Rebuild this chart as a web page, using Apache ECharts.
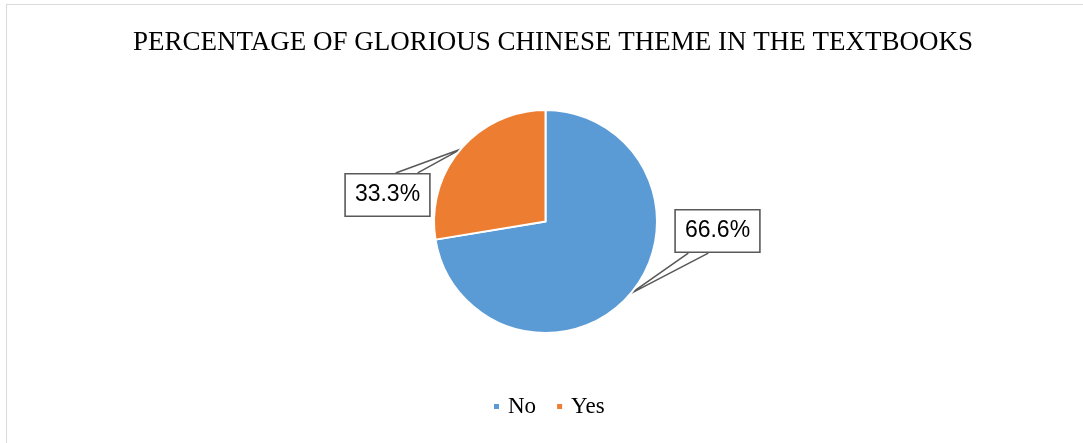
<!DOCTYPE html>
<html>
<head>
<meta charset="utf-8">
<script src="https://cdn.jsdelivr.net/npm/echarts@6/dist/echarts.min.js"></script>
<style>
html,body{margin:0;padding:0;background:#fff;}
#chart{width:1083px;height:443px;position:relative;}
#frame{position:absolute;left:6px;top:4px;width:1100px;height:460px;border-left:1px solid #d9d9d9;border-top:1px solid #d9d9d9;pointer-events:none;}
</style>
</head>
<body>
<div id="chart"></div>
<div id="frame"></div>
<script>
const titleText = 'PERCENTAGE OF GLORIOUS CHINESE THEME IN THE TEXTBOOKS';
const categories = ['No', 'Yes'];
// slice sizes as drawn in the picture
const sliceValues = [72.4, 27.6];
// label texts as printed on the picture
const labelTexts = ['66.6%', '33.3%'];
const colors = ['#5B9BD5', '#ED7D31'];

const chart = echarts.init(document.getElementById('chart'));
const cx = 545.5, cy = 221.5;
const labelCenters = [[cx + 172, cy + 9.5], [cx - 158, cy - 26.5]];

chart.setOption({
  animation: false,
  title: {
    text: titleText,
    left: 548, top: 24,
    textAlign: 'center',
    textStyle: {fontFamily: 'Liberation Serif', fontWeight: 'normal', fontSize: 27, color: '#000'}
  },
  legend: {
    data: categories,
    bottom: 20,
    left: 487,
    icon: 'rect',
    itemWidth: 7, itemHeight: 7,
    itemGap: 19,
    textStyle: {fontFamily: 'Liberation Serif', fontSize: 23, color: '#000', padding: [0, 0, 0, 3]}
  },
  series: [{
    type: 'pie',
    center: [cx, cy],
    radius: 111.5,
    startAngle: 90,
    clockwise: true,
    itemStyle: {borderColor: '#fff', borderWidth: 2},
    data: categories.map((c, i) => ({name: c, value: sliceValues[i], itemStyle: {color: colors[i]}})),
    label: {
      show: true,
      position: 'outside',
      formatter: p => labelTexts[p.dataIndex],
      fontFamily: 'Liberation Sans',
      fontSize: 23,
      lineHeight: 24,
      color: '#000',
      backgroundColor: '#fff',
      borderColor: '#595959',
      borderWidth: 1.6,
      padding: [9, 9, 8, 9]
    },
    labelLine: {show: true, length: 10, length2: 10, lineStyle: {color: '#595959', width: 1.6}},
    labelLayout: function (p) {
      const c = labelCenters[p.dataIndex];
      const w = p.labelRect.width, h = p.labelRect.height;
      const left = c[0] - w / 2, top = c[1] - h / 2;
      const tip = p.labelLinePoints ? p.labelLinePoints[0] : [cx, cy];
      const edgeY = tip[1] > top + h ? top + h : top;
      let b1, b2;
      if (tip[0] < left + w / 2) { b1 = left + 14; b2 = left + 34; }
      else { b1 = left + w - 35; b2 = left + w - 13; }
      return {
        x: c[0], y: c[1], align: 'center', verticalAlign: 'middle',
        labelLinePoints: [[b1, edgeY], tip, [b2, edgeY]]
      };
    }
  }]
});
</script>
</body>
</html>
